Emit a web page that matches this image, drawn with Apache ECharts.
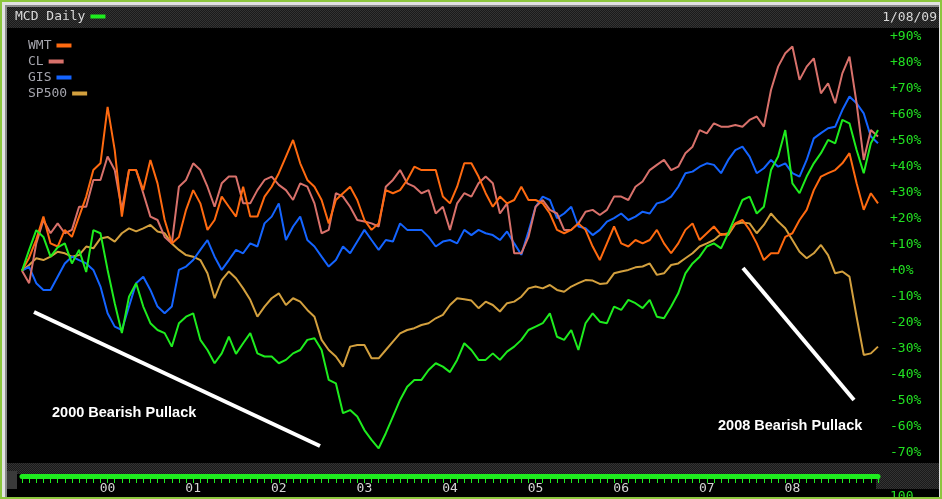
<!DOCTYPE html>
<html><head><meta charset="utf-8">
<script src="https://cdn.jsdelivr.net/npm/echarts@6.0.0/dist/echarts.min.js"></script>
<style>html,body{margin:0;padding:0;background:#000}#chart{width:942px;height:499px}</style>
</head><body><div id="chart"></div>
<script>
// Monthly categories Jan 1999 .. Jan 2009
const months = [];
for (let y = 1999; y <= 2009; y++) {
  for (let m = 1; m <= 12; m++) {
    if (y === 2009 && m > 1) break;
    months.push(y + '-' + String(m).padStart(2, '0'));
  }
}
const yearTickLabels = ['00','01','02','03','04','05','06','07','08'];
const yTicks = { min: -70, max: 90, step: 10 };
const headerDate = '1/08/09';

// % change (one value per month)
const MCD = [0,8,15.6,13,5.4,9,10.5,2.8,8,-0.5,15.6,14.4,0.3,-12.5,-24,-10,-4.8,-13.8,-20.2,-22.8,
  -24,-29.2,-20.2,-17.7,-16.4,-26.6,-30.5,-35.6,-31.8,-25.4,-32,-27.9,-24,-31.8,-33,-33,-35.6,-34.3,-31.8,-30.5,
  -26.6,-26,-30.5,-42,-43.3,-54.8,-53.6,-56.1,-61.3,-65.1,-68.3,-62.5,-56.1,-49.7,-44.6,-42,-42,-38.2,-35.6,-36.9,
  -39,-34.3,-27.9,-30.5,-34.3,-34.3,-31.8,-34.3,-31.1,-29.2,-26.6,-22.8,-21.5,-20.2,-16.4,-25.4,-26.6,-22.8,-30.5,-20.2,
  -16.4,-19.6,-20.2,-13.8,-15.1,-11.2,-12.5,-14.4,-11.2,-17.7,-18.3,-13.8,-8.7,-1,2.8,5.4,9.3,10.5,8.6,14.4,
  20.8,27.2,28.5,22,24.6,38.7,43.9,54.1,33.6,29.8,36.2,41.3,45.2,50.3,49,58,56.7,46.4,37.5,49,54.1];
const WMT = [0,5,12,20.8,10.5,9.3,15.7,13,20.8,28.5,38.7,41.3,63,46.4,20.8,38.7,38.7,31,42.6,33.6,
  19.5,10.5,13,23.4,31,25.9,15.7,19.5,28.5,24.6,20.8,32.3,20.8,20.8,28.5,32.3,37.5,43.9,50.3,41.3,
  34.9,32.3,27.2,18.2,27.2,29.8,32.3,27.2,19.5,15.7,18.2,31,29.8,31,34.9,40,38.7,38.7,38.7,28.5,
  25.9,32.3,41.3,41.3,36.2,29.8,24.6,28.5,25.9,27.2,32.3,27.2,27.2,25.9,22,15.7,14.4,15.7,18.2,15.7,
  9.3,4.1,10.5,17,10.5,9.3,11.8,10.5,11.8,15.7,10.5,6.7,10.5,15.7,18.2,11.8,14.4,17,13.7,14.4,
  18.2,19.5,15.7,10.5,4.1,6.7,6.7,13,14.4,19.5,23.4,31,36.2,37.5,38.7,41.3,45.2,33.6,23.4,29.8,25.9];
const CL = [0,-4.8,10.5,19.5,14.4,18.2,14.4,15.7,24.6,24.6,34.9,34.9,43.9,38.7,23.4,38.7,38.7,29.8,20.8,19.5,
  13,10.5,32.3,34.9,41.3,38.7,32.3,24.6,33.6,36.2,36.2,25.9,25.9,31,34.9,36.2,33,31,27.2,33.6,
  32.3,25.9,14.4,15.7,29.8,28.5,24.6,19.5,18.9,18.2,17,32.3,34.9,38.7,33.6,32.3,29.8,31,22,24.6,
  15.7,25.9,29.8,28.5,33.6,36.2,33.6,22,25.9,6.7,6.7,13,24.6,27.2,23.4,22,15.7,15.7,18.2,22.7,
  23.4,21.4,23.4,28.5,28.5,27.2,32.3,34.3,38.7,40.7,42.6,38.7,40,45.2,47.7,54.1,52.8,56.7,55.4,55.4,
  56,55.4,58,59.3,55.4,69.5,78.5,83.6,86.2,73.4,78.5,81.7,68.2,72.1,64.4,75.9,82.3,64.4,42.6,54.1,51.6];
const GIS = [0,1.5,-4.8,-7.4,-7.4,-2.3,2.8,5.4,4.1,2.8,0.3,-6.1,-16.4,-21.5,-22.8,-13.8,-4.8,-2.3,-7.4,-13.8,
  -16.4,-13.8,0.3,1.6,4.1,8,11.8,5.4,0.3,4.1,8,6.7,10.5,9.3,18.2,20.8,25.9,11.8,17,20.8,
  11.8,9.3,5.4,1.6,4.1,9.3,6.7,11.2,15.7,11.8,8,11.8,11.2,18.2,15.7,15.7,15.7,13,9.3,11.2,
  11.8,10.5,15.7,13.7,15.7,14.4,13.7,11.8,15.1,10.5,6.1,15.1,24.6,28.5,27.2,20.2,22,24.6,17,16.3,
  13.7,15.7,18.9,20.2,22,19.5,20.8,22.7,22,25.9,26.6,28.5,32.3,37.5,38.1,40,41.3,40.7,37.5,42.6,
  46.4,47.7,43.9,37.5,39.4,42.6,40,41.3,37.5,36.2,42.6,50.9,52.9,54.8,55.4,61.8,67,64.4,60.5,51.6,49];
const SP500 = [0,2.2,4.8,4.1,5.4,7.3,6.7,5.4,6,9.3,8.6,12.4,13,11.2,14.4,16.3,15.1,16.3,17.6,15.1,
  14.4,10.5,8,6,5.4,4.1,-1,-10.6,-3.6,-0.3,-2.9,-6.8,-11.2,-17.7,-13.8,-10.6,-8.7,-13.2,-10.6,-11.9,
  -15.1,-17.7,-26.6,-30.5,-33,-36.9,-29.2,-28.6,-28.6,-33.7,-33.7,-30.5,-27.3,-24.1,-22.8,-22.1,-20.9,-20.2,-18.3,-17,
  -13.2,-10.6,-11,-11.5,-14.4,-11.9,-13.2,-15.7,-12.5,-11.9,-10,-6.8,-6.1,-6.8,-5.5,-7.4,-8.1,-6.1,-4.8,-3.6,
  -3.8,-5.1,-4.8,-1,-0.3,0.3,1.3,1.6,2.8,-1.6,-1,2.2,2.8,4.8,6.7,9.3,10.5,11.8,14.1,13.7,
  18,18.5,18.2,14.4,17.6,22,18.9,16.3,11.8,7.3,4.8,6.7,9.9,6,-1,-0.3,-2.3,-17.7,-32.4,-31.8,-29.2];

const colors = { MCD: '#1EEC1E', WMT: '#FF6A10', CL: '#D8716B', GIS: '#1464FF', SP500: '#D3A03E' };
const mono = 'DejaVu Sans Mono';

function checker(a, b) {
  const c = document.createElement('canvas');
  c.width = 2; c.height = 2;
  const g = c.getContext('2d');
  g.fillStyle = a; g.fillRect(0, 0, 2, 2);
  g.fillStyle = b; g.fillRect(0, 0, 1, 1); g.fillRect(1, 1, 1, 1);
  return c;
}
const pat = () => ({ image: checker('#1a1a1a', '#333333'), repeat: 'repeat' });

const chart = echarts.init(document.getElementById('chart'), null, { renderer: 'canvas' });

function lineSeries(name, data) {
  return {
    name, type: 'line', data, showSymbol: false, symbol: 'none',
    color: colors[name], lineStyle: { width: 2, color: colors[name] },
    animation: false, z: 3
  };
}

function legendItem(name, top, textColor, label) {
  return {
    data: [name], formatter: () => label || name, left: name === 'MCD' ? 15 : 28, top, padding: 0,
    align: 'right', icon: 'rect', itemWidth: 15, itemHeight: 4, selectedMode: false,
    textStyle: { color: textColor, fontFamily: mono, fontSize: 13, lineHeight: 14 }
  };
}

chart.setOption({
  backgroundColor: '#000',
  animation: false,
  grid: { left: 22, right: 64, top: 36.7, bottom: 46.3, containLabel: false },
  legend: [
    legendItem('MCD', 9.5, '#D8D8D8', 'MCD Daily'),
    legendItem('WMT', 38.5, '#A4A4AC'),
    legendItem('CL', 54.5, '#A4A4AC'),
    legendItem('GIS', 70.5, '#A4A4AC'),
    legendItem('SP500', 86.5, '#A4A4AC')
  ],
  xAxis: {
    type: 'category', data: months, boundaryGap: false, offset: 23.3,
    axisLine: { show: true, onZero: false, lineStyle: { color: '#1EEC1E', width: 5 } },
    axisTick: { show: true, interval: 0, length: 7, lineStyle: { color: '#1EEC1E', width: 1 } },
    axisLabel: {
      interval: (idx) => idx % 12 === 0 && idx >= 12 && idx <= 108,
      formatter: (v, idx) => yearTickLabels[idx / 12 - 1],
      color: '#D4D4D4', fontFamily: mono, fontSize: 13, margin: 6
    },
    splitLine: { show: false }
  },
  yAxis: {
    type: 'value', position: 'right', min: yTicks.min, max: yTicks.max, interval: yTicks.step,
    axisLine: { show: false }, axisTick: { show: false }, splitLine: { show: false },
    axisLabel: {
      formatter: (v) => (v >= 0 ? '+' : '') + v + '%',
      color: '#22E022', fontFamily: mono, fontSize: 13, margin: 12
    }
  },
  series: [
    lineSeries('SP500', SP500),
    lineSeries('GIS', GIS),
    lineSeries('CL', CL),
    lineSeries('WMT', WMT),
    lineSeries('MCD', MCD)
  ],
  graphic: [
    { type: 'rect', z: -10, shape: { x: 0, y: 0, width: 942, height: 499 }, style: { fill: '#8CC63E' } },
    { type: 'rect', z: -9, shape: { x: 2, y: 2, width: 938, height: 495 }, style: { fill: '#E2E2E2' } },
    { type: 'rect', z: -8, shape: { x: 5, y: 5, width: 934, height: 492 }, style: { fill: '#8A8A8A' } },
    { type: 'rect', z: -7, shape: { x: 7, y: 7, width: 932, height: 490 }, style: { fill: '#000000' } },
    { type: 'rect', z: -6, shape: { x: 7, y: 7, width: 932, height: 21 }, style: { fill: pat() } },
    { type: 'rect', z: -6, shape: { x: 7, y: 463, width: 932, height: 11 }, style: { fill: pat() } },
    { type: 'rect', z: -6, shape: { x: 7, y: 471, width: 10, height: 18 }, style: { fill: '#3a3a3a' } },
    { type: 'rect', z: -6, shape: { x: 876, y: 473, width: 63, height: 16 }, style: { fill: pat() } },
    { type: 'text', z: 10, style: { text: headerDate, x: 937, y: 17.5, align: 'right', verticalAlign: 'middle',
        fill: '#D8D8D8', font: '13px "DejaVu Sans Mono"' } },
    { type: 'text', z: 10, style: { text: '100', x: 890, y: 490, align: 'left', verticalAlign: 'top',
        fill: '#22E022', font: '13px "DejaVu Sans Mono"' } },
    { type: 'rect', z: 50, shape: { x: 0, y: 497, width: 942, height: 2 }, style: { fill: '#8CC63E' } },
    { type: 'line', z: 100, shape: { x1: 34, y1: 312, x2: 320, y2: 446 }, style: { stroke: '#FFFFFF', lineWidth: 4 } },
    { type: 'line', z: 100, shape: { x1: 743, y1: 268, x2: 854, y2: 400 }, style: { stroke: '#FFFFFF', lineWidth: 4 } },
    { type: 'text', z: 100, style: { text: '2000 Bearish Pullack', x: 52, y: 412.5, verticalAlign: 'middle',
        fill: '#FFFFFF', font: 'bold 14.5px "Liberation Sans", Arial, sans-serif' } },
    { type: 'text', z: 100, style: { text: '2008 Bearish Pullack', x: 718, y: 426, verticalAlign: 'middle',
        fill: '#FFFFFF', font: 'bold 14.5px "Liberation Sans", Arial, sans-serif' } }
  ]
});
</script>
</body></html>
